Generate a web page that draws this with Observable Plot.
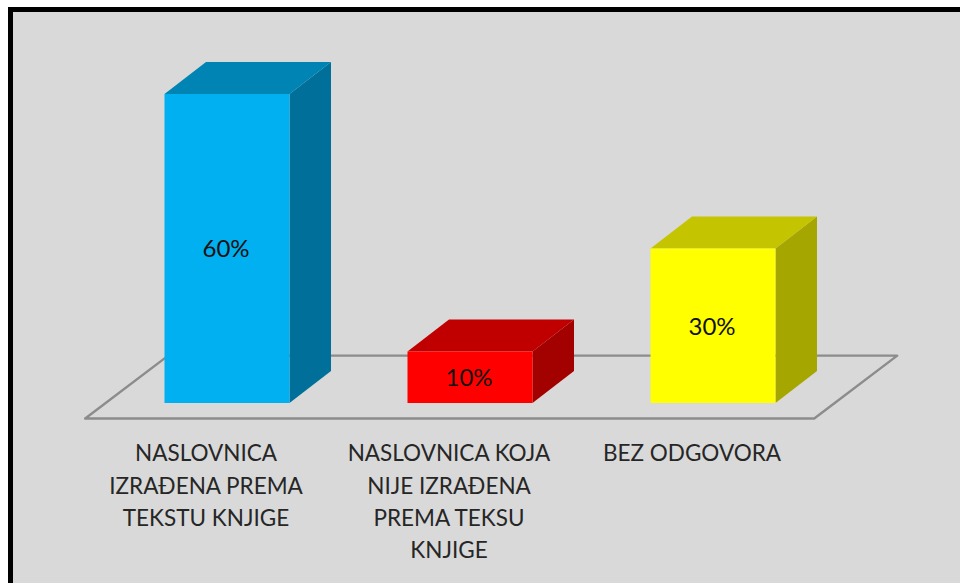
<!DOCTYPE html>
<html>
<head>
<meta charset="utf-8">
<script src="https://cdn.jsdelivr.net/npm/d3@7"></script>
<script src="https://cdn.jsdelivr.net/npm/@observablehq/plot@0.6"></script>
<style>
html,body{margin:0;padding:0;background:#fff;overflow:hidden}
#frame{position:absolute;left:8px;top:7px;width:952px;height:576px;box-sizing:border-box;background:#d9d9d9;border-left:5px solid #000;border-top:5.5px solid #000}
#chart{position:absolute;left:0;top:0}
#chart svg{background:transparent;display:block}
</style>
</head>
<body>
<div id="frame"></div>
<div id="chart"></div>
<script>
const categories = [
  "NASLOVNICA\nIZRAĐENA PREMA\nTEKSTU KNJIGE",
  "NASLOVNICA KOJA\nNIJE IZRAĐENA\nPREMA TEKSU\nKNJIGE",
  "BEZ ODGOVORA"
];
const values = [60, 10, 30];
const frontColors = ["#00b0f0", "#ff0000", "#ffff00"];
const topColors = ["#0084b4", "#c00000", "#c4c400"];
const sideColors = ["#00709a", "#a30000", "#a6a600"];

// geometry in data units: x = category index, y = percent
const halfW = 0.2572, depthX = 0.1708, depthY = 6.2;
const rows = values.map((v, i) => ({i, v, label: categories[i]}));

const sideFace = d => [
  {x: d.i + halfW, y1: 0, y2: d.v, k: d.i},
  {x: d.i + halfW + depthX, y1: depthY, y2: d.v + depthY, k: d.i}
];
const topFace = d => [
  {y: d.v, x1: d.i - halfW, x2: d.i + halfW, k: d.i},
  {y: d.v + depthY, x1: d.i - halfW + depthX, x2: d.i + halfW + depthX, k: d.i}
];
const floorFront = -2.9, floorBack = 9.3;
const floorLeft = -0.5856, floorRight = 2.4146, floorSkew = 0.3415;
const floor = [
  {x: floorLeft, y: floorFront},
  {x: floorRight, y: floorFront},
  {x: floorRight + floorSkew, y: floorBack},
  {x: floorLeft + floorSkew, y: floorBack},
  {x: floorLeft, y: floorFront}
];

const plot = Plot.plot({
  width: 960, height: 583,
  margin: 0,
  style: {background: "transparent"},
  x: {type: "linear", domain: [-227 / 243, 733 / 243], range: [0, 960], axis: null},
  y: {type: "linear", domain: [-34.95, 78.25], range: [583, 0], axis: null},
  marks: [
    Plot.line(floor, {x: "x", y: "y", stroke: "#8c8c8c", strokeWidth: 2.4, curve: "linear"}),
    ...rows.flatMap(d => [
      Plot.areaY(sideFace(d), {x: "x", y1: "y1", y2: "y2", fill: sideColors[d.i], curve: "linear"}),
      Plot.areaX(topFace(d), {y: "y", x1: "x1", x2: "x2", fill: topColors[d.i], curve: "linear"})
    ]),
    Plot.rect(rows, {
      x1: d => d.i - halfW, x2: d => d.i + halfW,
      y1: 0, y2: "v",
      fill: d => frontColors[d.i]
    }),
    Plot.text(rows, {
      x: d => d.i - 0.006, y: d => d.v / 2 - 0.12,
      text: d => d.v + "%",
      fontSize: 24, fontFamily: "Lato", fill: "#111"
    }),
    Plot.text(rows, {
      x: d => d.i - 0.0885, y: -6.8,
      text: "label",
      lineAnchor: "top", lineHeight: 1.436,
      fontSize: 22.5, fontFamily: "Lato", fill: "#262626"
    })
  ]
});
document.getElementById("chart").appendChild(plot);
</script>
</body>
</html>
